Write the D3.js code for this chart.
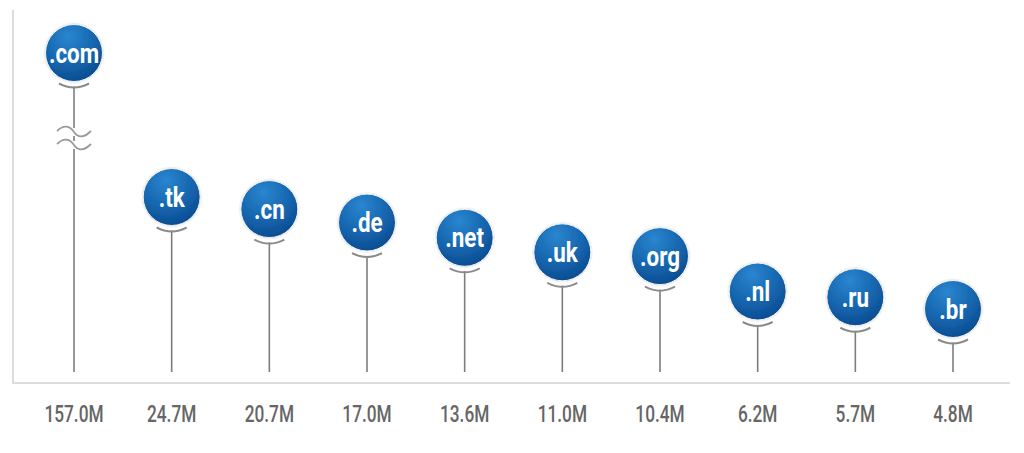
<!DOCTYPE html>
<html><head><meta charset="utf-8">
<script src="https://cdn.jsdelivr.net/npm/d3@7"></script>
<style>
html,body{margin:0;padding:0;background:#fff;}
svg{display:block;}
</style></head>
<body>
<svg id="chart" width="1024" height="453"></svg>
<script>
const categories = [".com", ".tk", ".cn", ".de", ".net", ".uk", ".org", ".nl", ".ru", ".br"];
const values = [157.0, 24.7, 20.7, 17.0, 13.6, 11.0, 10.4, 6.2, 5.7, 4.8];
const valueLabels = ["157.0M", "24.7M", "20.7M", "17.0M", "13.6M", "11.0M", "10.4M", "6.2M", "5.7M", "4.8M"];
const breakThreshold = 50; // values above this are drawn on a broken axis

const svg = d3.select("#chart");
const R = 28.5;
const baseY = 372;

const x = d3.scalePoint().domain(categories).range([74, 953]);
const y = d3.scaleLog().domain([4.8, 24.7]).range([309, 197]);
const yBroken = 53; // top position for values beyond the axis break
const cy = (v) => v > breakThreshold ? yBroken : y(v);

const defs = svg.append("defs");
const grad = defs.append("radialGradient").attr("id", "ball")
  .attr("cx", "40%").attr("cy", "25%").attr("r", "85%").attr("fx", "40%").attr("fy", "20%");
grad.append("stop").attr("offset", "0%").attr("stop-color", "#2a86cf");
grad.append("stop").attr("offset", "55%").attr("stop-color", "#1565ae");
grad.append("stop").attr("offset", "100%").attr("stop-color", "#0a4589");
const filt = defs.append("filter").attr("id", "sh").attr("x", "-30%").attr("y", "-30%").attr("width", "160%").attr("height", "160%");
filt.append("feDropShadow").attr("dx", 0).attr("dy", 0).attr("stdDeviation", 1.2).attr("flood-color", "#000").attr("flood-opacity", 0.22);

// axes frame
svg.append("line").attr("x1", 13).attr("x2", 13).attr("y1", 10).attr("y2", 383)
  .attr("stroke", "#dcdcdc").attr("stroke-width", 2);
svg.append("line").attr("x1", 12).attr("x2", 1010).attr("y1", 383).attr("y2", 383)
  .attr("stroke", "#dcdcdc").attr("stroke-width", 2);

const g = svg.append("g").selectAll("g").data(categories).join("g")
  .attr("transform", (d) => `translate(${x(d)},0)`);

// stems
g.append("line")
  .attr("x1", 0).attr("x2", 0)
  .attr("y1", (d, i) => cy(values[i]) + R + 5)
  .attr("y2", baseY)
  .attr("stroke", "#7d7d7d").attr("stroke-width", 1.6);

// smile arcs
g.append("path")
  .attr("d", (d, i) => {
    const yy = cy(values[i]) + R + 2;
    return `M${-15},${yy} Q0,${yy + 8} ${15},${yy}`;
  })
  .attr("fill", "none").attr("stroke", "#8a8a8a").attr("stroke-width", 2);

// axis break squiggles
const breakGroup = g.filter((d, i) => values[i] > breakThreshold);
[132, 145].forEach((by) => {
  breakGroup.append("rect").attr("x", -3).attr("y", by - 4).attr("width", 6).attr("height", 8).attr("fill", "#fff");
  breakGroup.append("path")
    .attr("d", `M-17,${by - 1} C-10,${by - 8} -4,${by - 6} 0,${by} C4,${by + 6} 10,${by + 6} 17,${by - 1}`)
    .attr("fill", "none").attr("stroke", "#9a9a9a").attr("stroke-width", 1.8);
});

// circles
g.append("circle")
  .attr("cx", 0).attr("cy", (d, i) => cy(values[i])).attr("r", R)
  .attr("fill", "url(#ball)").attr("stroke", "#f4f4f4").attr("stroke-width", 1)
  .attr("filter", "url(#sh)");

// circle labels
g.append("text")
  .attr("transform", (d, i) => `translate(0,${cy(values[i]) + 9.5}) scale(0.8,1)`)
  .attr("text-anchor", "middle")
  .attr("font-family", "Roboto, 'Liberation Sans', sans-serif")
  .attr("font-weight", 700)
  .attr("font-size", 28)
  .attr("fill", "#fff")
  .text((d) => d);

// value labels
g.append("text")
  .attr("transform", "translate(0,422) scale(0.72,1)")
  .attr("text-anchor", "middle")
  .attr("font-family", "Roboto, 'Liberation Sans', sans-serif")
  .attr("font-weight", 500)
  .attr("font-size", 24)
  .attr("fill", "#666666")
  .text((d, i) => valueLabels[i]);
</script>
</body></html>
